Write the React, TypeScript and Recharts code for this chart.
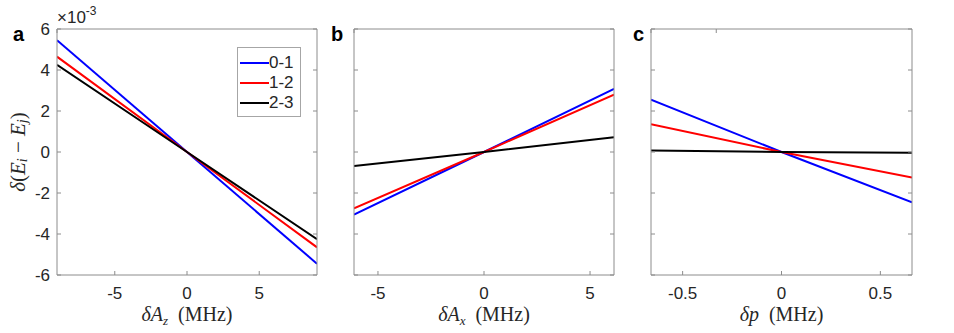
import React from "react";
import { LineChart, Line, XAxis, YAxis, Legend } from "recharts";

// series shared by all three panels (values in units of 1e-3)
const seriesNames = ["0-1", "1-2", "2-3"];
const seriesColors = ["#0000ff", "#ff0000", "#000000"];

// panel a: vs delta A_z
const azX = [-9, 0, 9];
const azBlue = [5.45, 0, -5.45];
const azRed = [4.65, 0, -4.65];
const azBlack = [4.25, 0, -4.25];

// panel b: vs delta A_x
const axX = [-6.13, 0, 6.13];
const axBlue = [-3.05, 0, 3.08];
const axRed = [-2.75, 0, 2.8];
const axBlack = [-0.68, 0, 0.72];

// panel c: vs delta p
const pX = [-0.66, 0, 0.66];
const pBlue = [2.55, 0, -2.45];
const pRed = [1.35, 0, -1.25];
const pBlack = [0.07, 0, -0.04];

const yTicks = [-6, -4, -2, 0, 2, 4, 6];
const azTicks = [-5, 0, 5];
const axTicks = [-5, 0, 5];
const pTicks = [-0.5, 0, 0.5];

const AXIS = "#8c8c8c";
const TXT = "#262626";
const SANS = "'Liberation Sans', Arial, sans-serif";
const SERIF = "'Liberation Serif', 'DejaVu Serif', serif";

const toRows = (xs: number[], a: number[], b: number[], c: number[]) =>
  xs.map((x, i) => ({ x, s0: a[i], s1: b[i], s2: c[i] }));

const azRows = toRows(azX, azBlue, azRed, azBlack);
const axRows = toRows(axX, axBlue, axRed, axBlack);
const pRows = toRows(pX, pBlue, pRed, pBlack);

const blank = () => "";

function xTitle(main: string, sub: string | null) {
  return (props: any) => {
    const vb = props.viewBox || {};
    const cx = vb.x + vb.width / 2;
    return (
      <text x={cx} y={vb.y + 46} textAnchor="middle" fontFamily={SERIF} fontSize={20} fill={TXT}>
        <tspan fontStyle="italic">{main}</tspan>
        {sub ? (
          <tspan fontStyle="italic" fontSize={13} dy={4}>
            {sub}
          </tspan>
        ) : null}
        <tspan dy={sub ? -4 : 0}>{"\u2002(MHz)"}</tspan>
      </text>
    );
  };
}

function yTitle(props: any) {
  const vb = props.viewBox || {};
  const x = vb.x + 1;
  const y = vb.y + vb.height / 2;
  return (
    <text
      x={x}
      y={y}
      transform={`rotate(-90, ${x}, ${y})`}
      textAnchor="middle"
      dominantBaseline="central"
      fontFamily={SERIF}
      fontSize={21}
      fill={TXT}
    >
      <tspan fontStyle="italic">δ</tspan>
      <tspan>(</tspan>
      <tspan fontStyle="italic">E</tspan>
      <tspan fontStyle="italic" fontSize={14} dy={4}>i</tspan>
      <tspan dy={-4}>{"\u00a0\u2212\u00a0"}</tspan>
      <tspan fontStyle="italic">E</tspan>
      <tspan fontStyle="italic" fontSize={14} dy={4}>j</tspan>
      <tspan dy={-4}>)</tspan>
    </text>
  );
}

function LegendBox() {
  return (
    <div
      style={{
        border: "1px solid #a6a6a6",
        background: "#fff",
        width: 60,
        padding: "5px 0 3px 2px",
        fontFamily: SANS,
        fontSize: 17,
        lineHeight: "20px",
        color: TXT,
        boxSizing: "content-box",
      }}
    >
      {seriesNames.map((name, i) => (
        <div key={name} style={{ display: "flex", alignItems: "center", height: 20 }}>
          <span style={{ display: "inline-block", width: 29, height: 2, background: seriesColors[i] }} />
          <span>{name}</span>
        </div>
      ))}
    </div>
  );
}

type PanelProps = {
  left: number;
  width: number;
  yAxisW: number;
  marginLeft: number;
  marginRight: number;
  rows: any[];
  domain: [number, number];
  ticks: number[];
  showY: boolean;
  title: (p: any) => React.ReactNode;
  legend?: boolean;
};

function Panel(p: PanelProps) {
  const tickStyle = { fill: TXT, fontSize: 17, fontFamily: SANS };
  return (
    <div style={{ position: "absolute", left: p.left, top: 0 }}>
      <LineChart
        width={p.width}
        height={333}
        data={p.rows}
        margin={{ top: 24, right: p.marginRight, bottom: 0, left: p.marginLeft }}
      >
        <XAxis
          dataKey="x"
          type="number"
          domain={p.domain}
          ticks={p.ticks}
          allowDataOverflow
          height={58}
          stroke={AXIS}
          tickSize={-4}
          tickMargin={16}
          tick={tickStyle}
          label={p.title}
        />
        <XAxis
          xAxisId="top"
          orientation="top"
          type="number"
          domain={p.domain}
          ticks={p.ticks}
          allowDataOverflow
          height={5}
          stroke={AXIS}
          tickSize={-4}
          tickFormatter={blank}
        />
        <YAxis
          type="number"
          domain={[-6, 6]}
          ticks={yTicks}
          allowDataOverflow
          width={p.yAxisW}
          stroke={AXIS}
          tickSize={-4}
          tickMargin={11}
          tick={tickStyle}
          tickFormatter={p.showY ? undefined : blank}
          label={p.showY ? yTitle : undefined}
        />
        <YAxis
          yAxisId="right"
          orientation="right"
          type="number"
          domain={[-6, 6]}
          ticks={yTicks}
          allowDataOverflow
          width={6}
          stroke={AXIS}
          tickSize={-4}
          tickFormatter={blank}
        />
        {p.legend ? (
          <Legend
            layout="vertical"
            align="center"
            verticalAlign="middle"
            wrapperStyle={{ left: 237, top: 47, width: 62 }}
            content={() => <LegendBox />}
          />
        ) : null}
        {seriesNames.map((name, i) => (
          <Line
            key={name}
            name={name}
            dataKey={`s${i}`}
            stroke={seriesColors[i]}
            strokeWidth={2}
            dot={false}
            activeDot={false}
            isAnimationActive={false}
          />
        ))}
      </LineChart>
    </div>
  );
}

export default function App() {
  const letter = { fontFamily: SANS, fontSize: 20, fontWeight: 700, fill: "#000" } as const;
  return (
    <div style={{ position: "absolute", left: 0, top: 0, width: 954, height: 333, background: "#fff" }}>
      <Panel
        left={0}
        width={330}
        yAxisW={40}
        marginLeft={17}
        marginRight={7}
        rows={azRows}
        domain={[-9, 9]}
        ticks={azTicks}
        showY
        title={xTitle("δA", "z")}
        legend
      />
      <Panel
        left={330}
        width={300}
        yAxisW={10}
        marginLeft={14}
        marginRight={10}
        rows={axRows}
        domain={[-6.13, 6.13]}
        ticks={axTicks}
        showY={false}
        title={xTitle("δA", "x")}
      />
      <Panel
        left={630}
        width={324}
        yAxisW={10}
        marginLeft={11}
        marginRight={36}
        rows={pRows}
        domain={[-0.66, 0.66]}
        ticks={pTicks}
        showY={false}
        title={xTitle("δp", null)}
      />
      <svg
        width={954}
        height={333}
        style={{ position: "absolute", left: 0, top: 0, pointerEvents: "none" }}
      >
        <text x={13} y={41} {...letter}>a</text>
        <text x={331} y={41} {...letter}>b</text>
        <text x={633} y={41} {...letter}>c</text>
        <text x={57} y={23} fontFamily={SANS} fontSize={17} fill={TXT}>
          <tspan>×10</tspan>
          <tspan fontSize={12} dy={-8}>-3</tspan>
        </text>
      </svg>
    </div>
  );
}
